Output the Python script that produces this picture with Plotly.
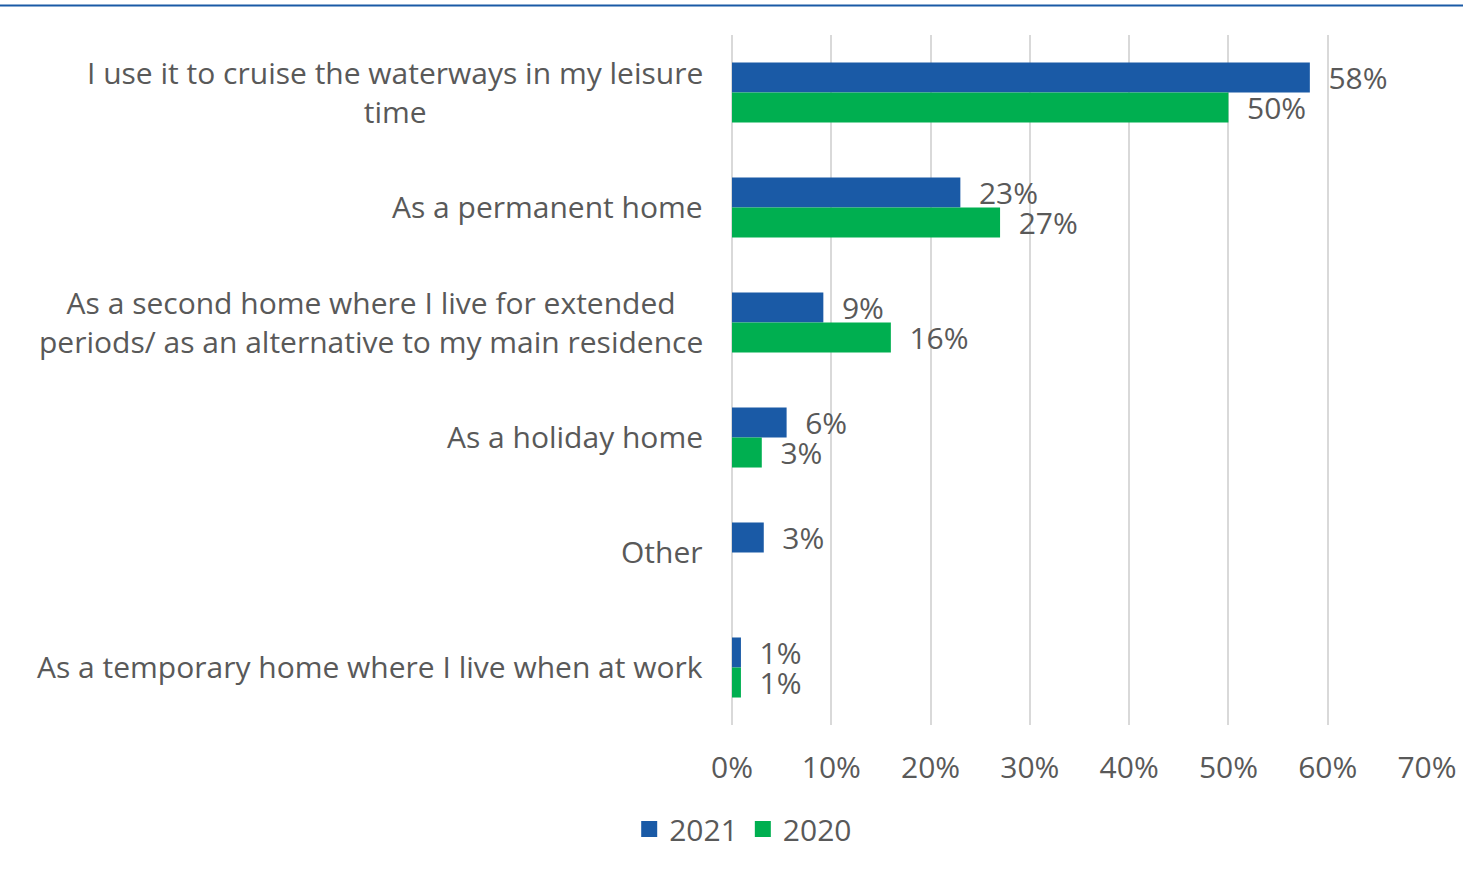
import plotly.graph_objects as go

categories = [
    "I use it to cruise the waterways in my leisure<br>time",
    "As a permanent home",
    "As a second home where I live for extended<br>periods/ as an alternative to my main residence",
    "As a holiday home",
    "Other",
    "As a temporary home where I live when at work",
]
values_2021 = [58.2, 23.0, 9.2, 5.5, 3.2, 0.9]
values_2020 = [50.0, 27.0, 16.0, 3.0, None, 0.9]
labels_2021 = ["58%", "23%", "9%", "6%", "3%", "1%"]
labels_2020 = ["50%", "27%", "16%", "3%", "", "1%"]
x_ticks = [0, 10, 20, 30, 40, 50, 60, 70]

BLUE = "#1A5AA6"
GREEN = "#00AF50"
TEXT = "#595959"
FONT = "Open Sans"
FS = 30

W, H = 1463, 869
ML, MR, MT, MB = 732, 36, 35, 144
PW, PH = W - ML - MR, H - MT - MB

ids = list(range(len(categories)))

fig = go.Figure()
fig.add_trace(go.Bar(
    y=ids, x=values_2021, orientation="h", name="2021", showlegend=False,
    marker=dict(color=BLUE, line=dict(width=0)),
    text=["  " + t for t in labels_2021], textposition="outside",
    constraintext="none",
    textfont=dict(family=FONT, size=FS, color=TEXT), cliponaxis=False,
))
fig.add_trace(go.Bar(
    y=ids, x=values_2020, orientation="h", name="2020", showlegend=False,
    marker=dict(color=GREEN, line=dict(width=0)),
    text=[("  " + t) if t else "" for t in labels_2020], textposition="outside",
    constraintext="none",
    textfont=dict(family=FONT, size=FS, color=TEXT), cliponaxis=False,
))
# legend entries with square swatches
for name, col in [("2021", BLUE), ("2020", GREEN)]:
    fig.add_trace(go.Scatter(
        x=[None], y=[None], mode="markers", name=name,
        marker=dict(symbol="square", size=16, color=col),
    ))

for i, c in enumerate(categories):
    fig.add_annotation(
        x=0, xref="paper", y=i, yref="y", text=c, showarrow=False,
        xanchor="right", align="center", xshift=-27, yshift=1,
        font=dict(family=FONT, size=FS, color=TEXT),
    )

fig.add_shape(
    type="line", xref="paper", yref="paper",
    x0=-ML / PW, x1=1 + MR / PW, y0=1 + (MT - 5.5) / PH, y1=1 + (MT - 5.5) / PH,
    line=dict(color=BLUE, width=2),
)

fig.update_layout(
    width=W, height=H,
    margin=dict(l=ML, r=MR, t=MT, b=MB, autoexpand=False),
    plot_bgcolor="white", paper_bgcolor="white",
    barmode="group", bargap=0.478, bargroupgap=0,
    font=dict(family=FONT, size=FS, color=TEXT),
    legend=dict(orientation="h", xref="container", yref="container",
                x=0.508, xanchor="center", y=1 - 829 / H, yanchor="middle",
                font=dict(family=FONT, size=FS, color=TEXT), traceorder="normal"),
)
fig.update_xaxes(
    range=[0, 70], tickvals=x_ticks, ticktext=[f"{v}%" for v in x_ticks],
    showgrid=True, gridcolor="#D9D9D9", gridwidth=2,
    zeroline=True, zerolinecolor="#D9D9D9", zerolinewidth=2,
    ticks="outside", ticklen=16, tickcolor="rgba(0,0,0,0)",
    tickfont=dict(family=FONT, size=FS, color=TEXT), showline=False,
)
fig.update_yaxes(
    tickvals=ids, showticklabels=False, range=[5.5, -0.5],
    showgrid=False, zeroline=False, showline=False,
)

fig.write_html(
    "out.html",
    config={"displayModeBar": False},
    post_script="document.body.style.margin='0';document.body.style.overflow='hidden';",
)
